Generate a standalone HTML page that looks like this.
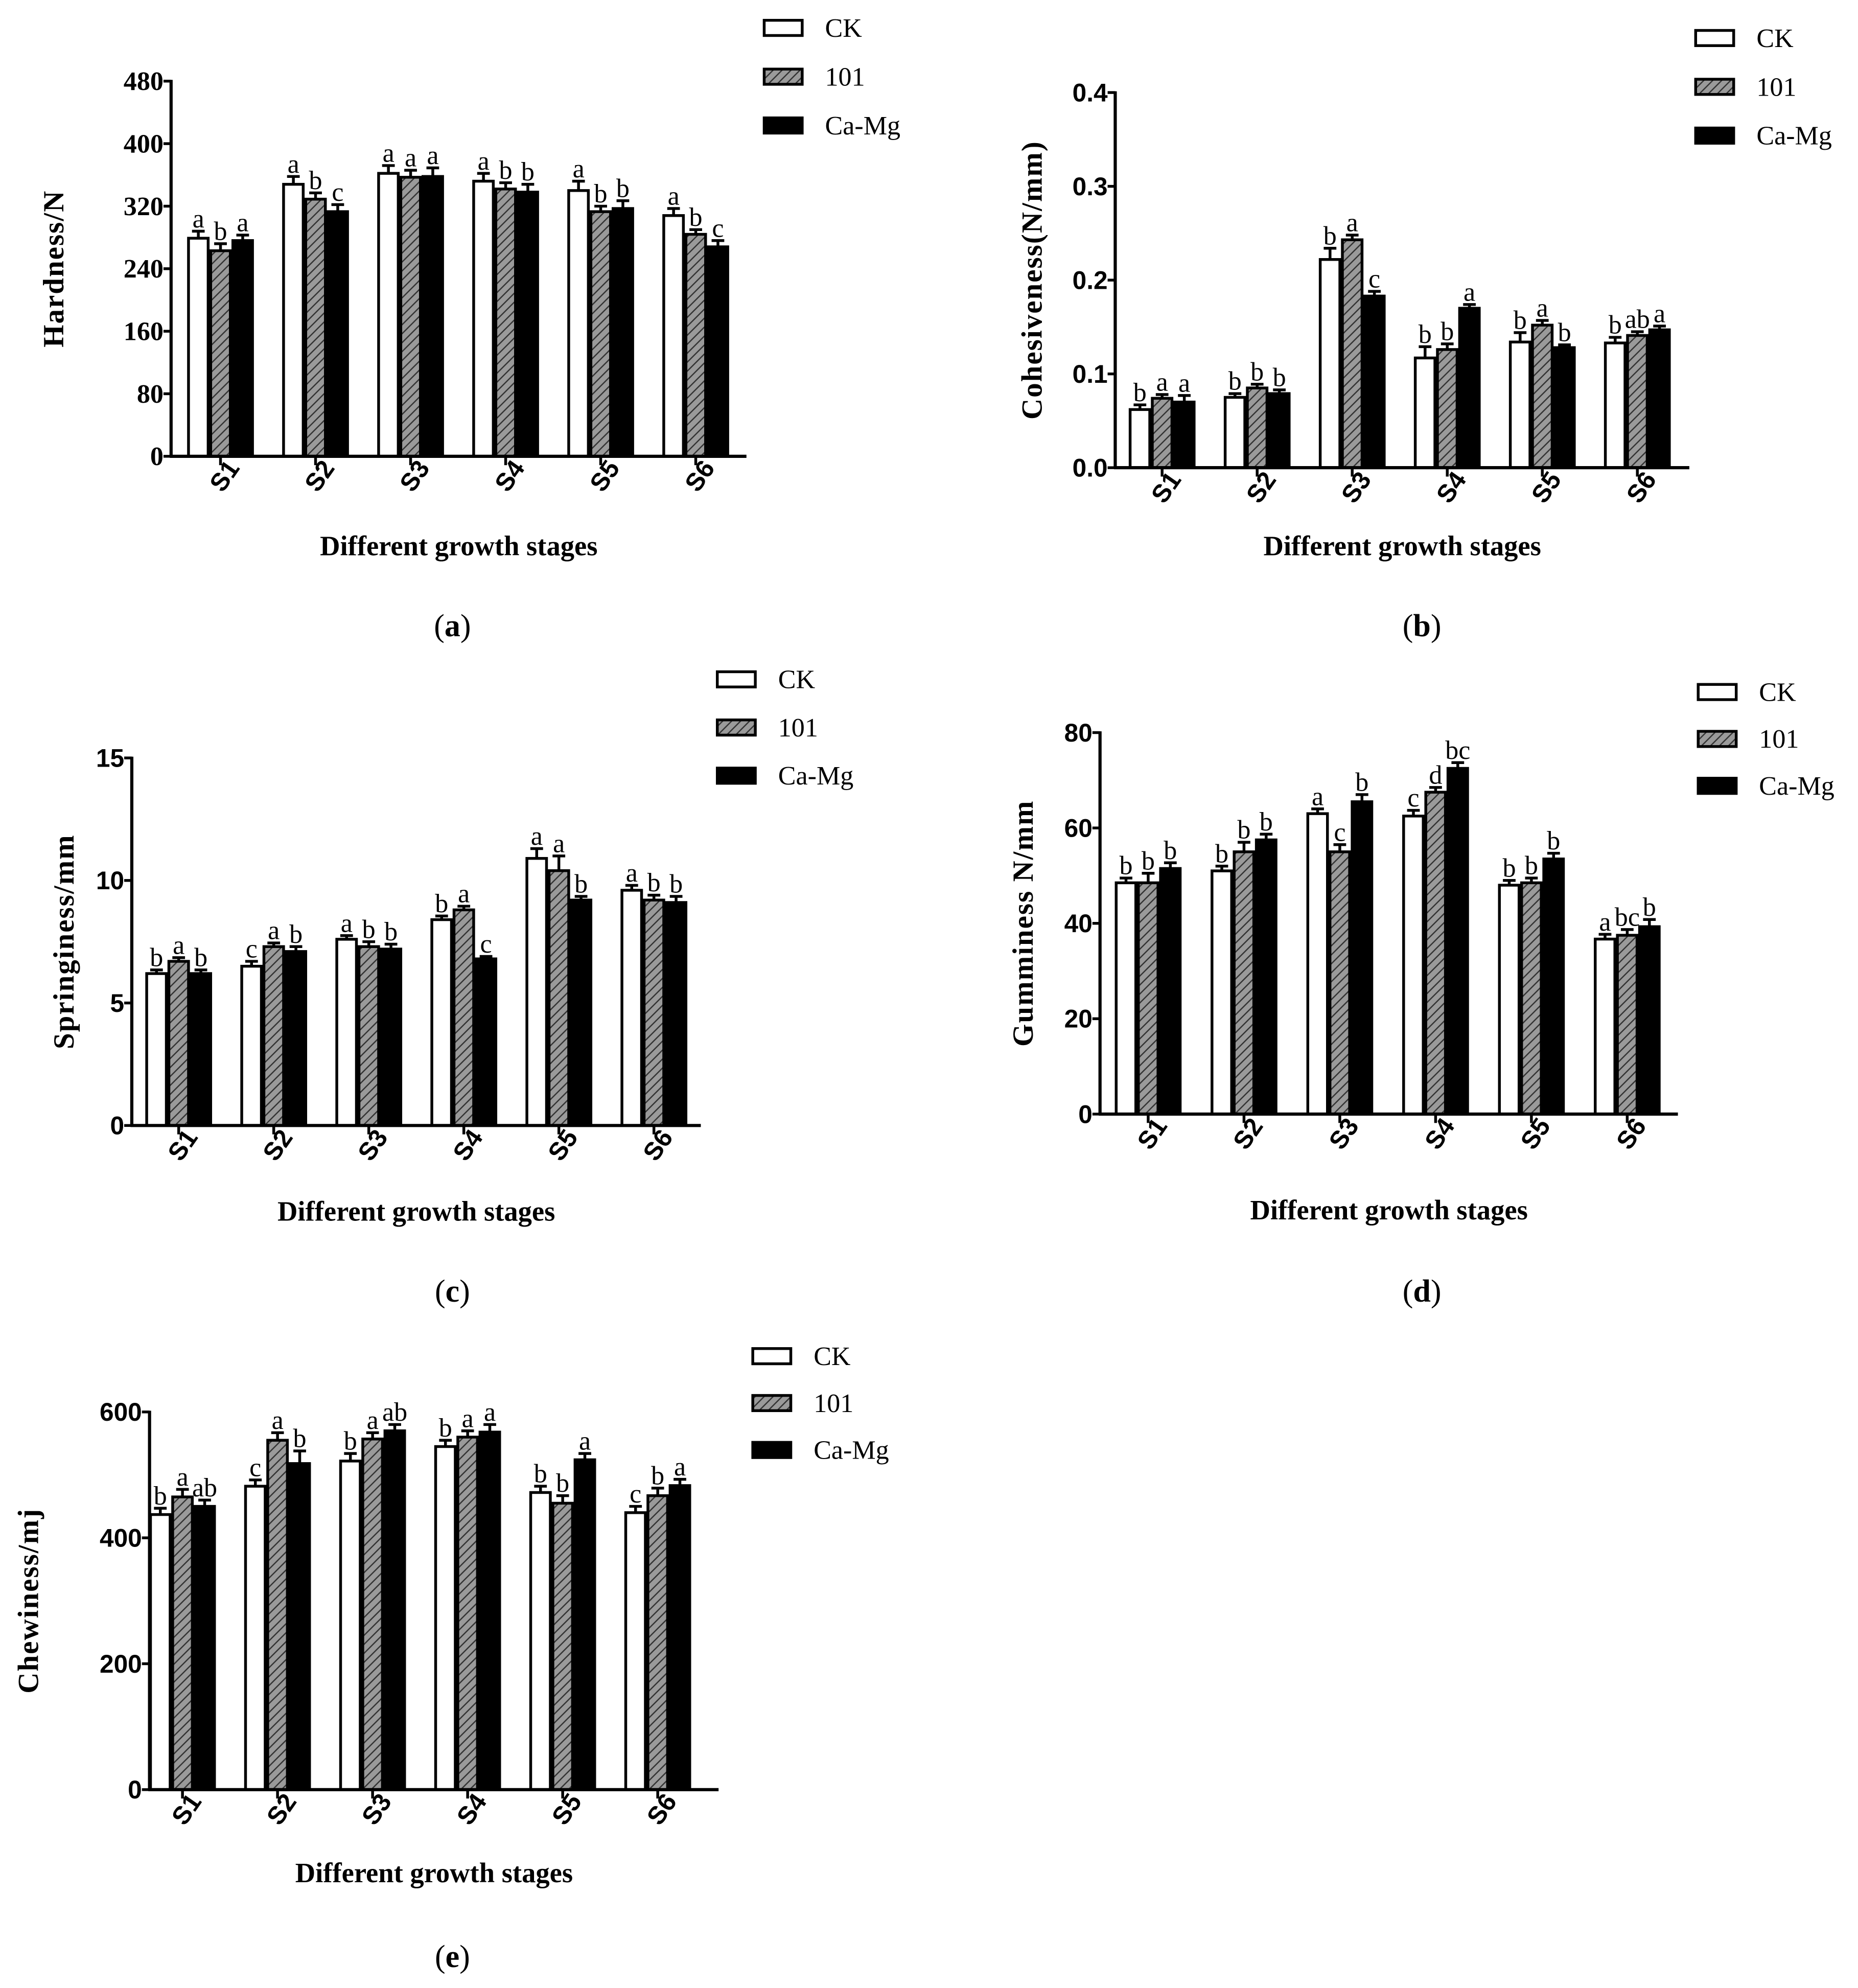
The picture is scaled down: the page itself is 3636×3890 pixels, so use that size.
<!DOCTYPE html>
<html><head><meta charset="utf-8"><style>
html,body{margin:0;padding:0;background:#fff}
svg{display:block}
</style></head><body>
<svg id="fig" width="3636" height="3890" viewBox="0 0 1466.1 1568.5" xmlns="http://www.w3.org/2000/svg" font-family="Liberation Serif, serif">
<defs>
<pattern id="hatch" patternUnits="userSpaceOnUse" width="5" height="5" patternTransform="rotate(45)">
<rect width="5" height="5" fill="#9a9a9a"/><line x1="0" y1="0" x2="0" y2="5" stroke="#333" stroke-width="2"/>
</pattern>
</defs>
</svg>
<script>
const groups = ["S1","S2","S3","S4","S5","S6"];
const seriesNames = ["CK","101","Ca-Mg"];
// (a) Hardness
const aCK=[279,348,362,352,340,308], a101=[263,329,357,342,313,284], aCaMg=[276,313,358,338,317,268];
const aErr=[[9,10,10,10,12,9],[9,8,9,8,7,6],[7,9,11,10,10,8]];
const aLet=[["a","a","a","a","a","a"],["b","b","a","b","b","b"],["a","c","a","b","b","c"]];
const aTicks=[0,80,160,240,320,400,480];
// (b) Cohesiveness
const bCK=[0.062,0.075,0.222,0.117,0.134,0.133], b101=[0.074,0.085,0.243,0.126,0.152,0.141], bCaMg=[0.070,0.079,0.183,0.170,0.128,0.147];
const bErr=[[0.005,0.004,0.012,0.012,0.01,0.006],[0.004,0.004,0.005,0.006,0.005,0.004],[0.007,0.004,0.005,0.004,0.003,0.004]];
const bLet=[["b","b","b","b","b","b"],["a","b","a","b","a","ab"],["a","b","c","a","b","a"]];
const bTicks=[0,0.1,0.2,0.3,0.4];
const bTickLbl=["0.0","0.1","0.2","0.3","0.4"];
// (c) Springiness
const cCK=[6.2,6.5,7.6,8.4,10.9,9.6], c101=[6.7,7.3,7.3,8.8,10.4,9.2], cCaMg=[6.2,7.1,7.2,6.8,9.2,9.1];
const cErr=[[0.15,0.2,0.15,0.15,0.4,0.2],[0.15,0.15,0.2,0.15,0.6,0.2],[0.15,0.2,0.2,0.1,0.15,0.25]];
const cLet=[["b","c","a","b","a","a"],["a","a","b","a","a","b"],["b","b","b","c","b","b"]];
const cTicks=[0,5,10,15];
// (d) Gumminess
const dCK=[48.5,51,63,62.5,48,36.7], d101=[48.5,55,55,67.5,48.5,37.5], dCaMg=[51.5,57.5,65.5,72.5,53.5,39.3];
const dErr=[[1,1,1,1.2,1,1],[2,2,1.5,1,1,1.2],[1.2,1.2,1.5,1.2,1.2,1.5]];
const dLet=[["b","b","a","c","b","a"],["b","b","c","d","b","bc"],["b","b","b","bc","b","b"]];
const dTicks=[0,20,40,60,80];
// (e) Chewiness
const eCK=[437,482,522,545,472,440], e101=[465,555,557,560,455,467], eCaMg=[450,518,570,568,524,483];
const eErr=[[10,10,12,10,10,10],[12,12,10,10,12,12],[10,20,10,12,10,10]];
const eLet=[["b","c","b","b","b","c"],["a","a","a","a","b","b"],["ab","b","ab","a","a","a"]];
const eTicks=[0,200,400,600];

const svg=document.getElementById('fig');
const NS="http://www.w3.org/2000/svg";
function mk(tag,attrs,parent,txt){const e=document.createElementNS(NS,tag);for(const k in attrs)e.setAttribute(k,attrs[k]);if(txt!==undefined)e.textContent=txt;(parent||svg).appendChild(e);return e;}
const SANS='Liberation Sans, sans-serif', SERIF='Liberation Serif, serif';

function panel(p){
  const g=mk('g',{});
  
  
  const y=v=>p.y0-(v-p.min)/(p.max-p.min)*(p.y0-p.y1);
  const x=i=>p.s1+i*p.step;
  const bw=17.5;
  const series=[p.s0,p.s1v,p.s2v];
  const fills=["#fff","url(#hatch)","#000"];
  series.forEach((vals,si)=>{
    vals.forEach((v,i)=>{
      const bx=x(i)-1.5*bw+si*bw;
      const r=mk('rect',{x:bx+1,y:y(v),width:bw-2,height:p.y0-y(v),fill:fills[si],stroke:'#000','stroke-width':2.2},g);
      
      
      const cx=bx+bw/2, et=y(v+p.err[si][i]);
      mk('line',{x1:cx,y1:y(v),x2:cx,y2:et,stroke:'#000','stroke-width':2.2},g);
      mk('line',{x1:cx-5,y1:et,x2:cx+5,y2:et,stroke:'#000','stroke-width':2.2},g);
      const t=mk('text',{x:cx,y:et-3,'text-anchor':'middle','font-size':21,'font-family':SERIF},g,p.lets[si][i]);
      
      
    });
  });
  mk('line',{x1:p.ax,y1:p.y1-1,x2:p.ax,y2:p.y0+1,stroke:'#000','stroke-width':2.5},g);
  mk('line',{x1:p.ax-1,y1:p.y0,x2:p.xr,y2:p.y0,stroke:'#000','stroke-width':2.5},g);
  p.ticks.forEach((tv,k)=>{
    mk('line',{x1:p.ax-6,y1:y(tv),x2:p.ax,y2:y(tv),stroke:'#000','stroke-width':2.2},g);
    const t=mk('text',{x:p.ax-6,y:y(tv)+7,'text-anchor':'end','font-size':p.tickSize||20,'font-weight':'bold','font-family':p.tickFont},g,p.tickLbl?p.tickLbl[k]:String(tv));
    
    
  });
  groups.forEach((gname,i)=>{
    mk('line',{x1:x(i),y1:p.y0,x2:x(i),y2:p.y0+7,stroke:'#000','stroke-width':2.2},g);
    const t=mk('text',{x:x(i)+8,y:p.y0+26,'text-anchor':'middle','font-size':20,'font-weight':'bold','font-family':SANS,transform:`rotate(-55 ${x(i)+2} ${p.y0+22})`},g,gname);
    
    
  });
  const yt=mk('text',{x:0,y:0,'text-anchor':'middle','font-size':23,'font-weight':'bold','font-family':SERIF,'letter-spacing':0.8,transform:`translate(${p.ytx},${(p.y0+p.y1)/2}) rotate(-90)`},g,p.ytitle);
  
  
  const xt=mk('text',{x:(p.ax+p.xr)/2,y:p.xty,'text-anchor':'middle','font-size':22,'font-weight':'bold','font-family':SERIF},g,'Different growth stages');
  
  
  const pl=mk('text',{x:p.plx,y:p.ply,'text-anchor':'middle','font-size':25,'font-family':SERIF},g);
  
  
  mk('tspan',{},pl,'(');mk('tspan',{'font-weight':'bold'},pl,p.letter);mk('tspan',{},pl,')');
  seriesNames.forEach((s,si)=>{
    const ly=p.leg[1]+si*p.legStep;
    const lr=mk('rect',{x:p.leg[0],y:ly-6,width:30,height:12,fill:fills[si],stroke:'#000','stroke-width':2.2},g);
    
    
    const lt=mk('text',{x:p.leg[0]+48,y:ly+7,'font-size':21,'font-family':SERIF},g,s);
    
    
  });
}
panel({name:'chart-hardness',letter:'a',s0:aCK,s1v:a101,s2v:aCaMg,err:aErr,lets:aLet,ticks:aTicks,min:0,max:480,ax:135,xr:589,y0:360,y1:64,s1:174,step:75,ytitle:'Hardness/N',ytx:50,xty:438,plx:357,ply:502,leg:[603,22],legStep:38.5,tickFont:SERIF,tickSize:21});
panel({name:'chart-cohesiveness',letter:'b',s0:bCK,s1v:b101,s2v:bCaMg,err:bErr,lets:bLet,ticks:bTicks,tickLbl:bTickLbl,min:0,max:0.4,ax:880,xr:1333,y0:369,y1:73,s1:917,step:75,ytitle:'Cohesiveness(N/mm)',ytx:822,xty:438,plx:1122,ply:502,leg:[1338,30],legStep:38.5,tickFont:SANS});
panel({name:'chart-springiness',letter:'c',s0:cCK,s1v:c101,s2v:cCaMg,err:cErr,lets:cLet,ticks:cTicks,min:0,max:15,ax:104,xr:553,y0:888,y1:598,s1:141,step:75,ytitle:'Springiness/mm',ytx:58,xty:963,plx:357,ply:1027,leg:[566,536],legStep:38,tickFont:SANS});
panel({name:'chart-gumminess',letter:'d',s0:dCK,s1v:d101,s2v:dCaMg,err:dErr,lets:dLet,ticks:dTicks,min:0,max:80,ax:868,xr:1324,y0:879,y1:578,s1:906,step:75.6,ytitle:'Gumminess N/mm',ytx:815,xty:962,plx:1122,ply:1027,leg:[1340,546],legStep:37,tickFont:SANS});
panel({name:'chart-chewiness',letter:'e',s0:eCK,s1v:e101,s2v:eCaMg,err:eErr,lets:eLet,ticks:eTicks,min:0,max:600,ax:118,xr:567,y0:1412,y1:1114,s1:144,step:75,ytitle:'Chewiness/mj',ytx:30,xty:1485,plx:357,ply:1552,leg:[594,1070],legStep:37,tickFont:SANS});
</script>
</body></html>
